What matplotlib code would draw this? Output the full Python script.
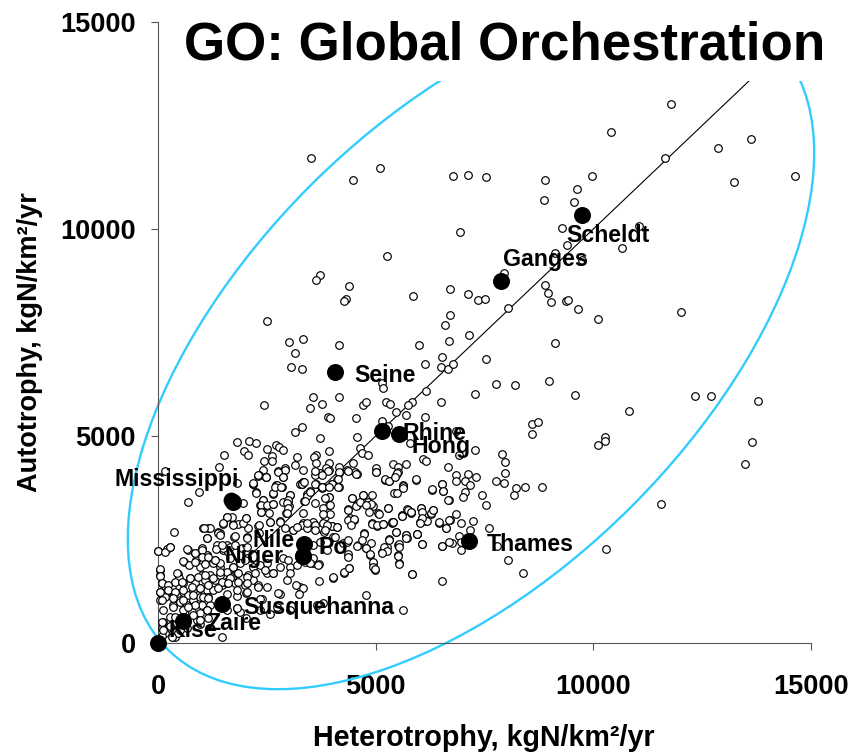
import matplotlib
matplotlib.use('Agg')
import matplotlib.pyplot as plt
from matplotlib.patches import Ellipse, Rectangle
from matplotlib.transforms import IdentityTransform

plt.rcParams['font.family'] = ['Liberation Sans', 'DejaVu Sans']
plt.rcParams['font.weight'] = 'bold'

# Basins (heterotrophy, autotrophy)
upper_het = [11784, 10398, 11646, 12870, 13621, 13231, 14640, 6784, 7113, 7541, 8889, 9969, 9617, 8859, 9548,
             9287, 11056, 6944, 9387, 10665, 9119, 9733, 7941, 6714, 7121, 7343, 7511, 5857, 8033, 8889, 8958,
             9021, 9365, 9418, 9647, 10107, 12013, 6714, 6585, 6684, 7144, 5995, 9119, 3514, 4479, 5099, 5260,
             3721, 3629, 4387, 4311, 4266, 2511, 3002, 3331, 3140, 3062, 3301, 4151]
upper_aut = [13009, 12348, 11720, 11962, 12172, 11141, 11278, 11278, 11310, 11249, 11174, 11278, 10964, 10691, 10650,
             10030, 10070, 9926, 9619, 9547, 9419, 9249, 8943, 8542, 8436, 8276, 8300, 8373, 8090, 8646, 8445,
             8235, 8267, 8276, 8059, 7818, 7993, 7921, 7680, 7300, 7438, 7189, 7257, 11713, 11182, 11471, 9346,
             8887, 8767, 8622, 8308, 8267, 7784, 7269, 7334, 6996, 6673, 6610, 7197]

right_het = [6517, 6126, 6494, 6654, 6784, 7541, 6156, 7770, 8200, 8981, 9579, 7274, 6494, 5834, 5735, 5697, 6126,
             10819, 12335, 12703, 13782, 13644, 13484, 11554, 10290, 8597, 8729, 8597, 10268, 10268, 10107, 6845,
             7274, 6921, 5788, 6080, 6163, 5704, 6654, 7902, 7971, 7971, 7770, 7941, 8230, 8430, 8828, 8170, 7442,
             7541, 6852, 7121, 7312, 6852, 7045, 7174, 6517, 5926, 6287, 6553, 7045, 7013, 6684, 5635, 5735, 6033,
             6324, 6264, 5805, 5612, 6064, 6018, 6163, 6845, 6714, 6462, 6953, 7243, 6615, 7174, 7603, 6921, 5956,
             5697, 6064, 6517, 6746, 6953, 6953, 7794, 8033, 8391, 5827, 6517]
right_aut = [6914, 6745, 6673, 6610, 6745, 6851, 6093, 6262, 6231, 6335, 5989, 6021, 5813, 5820, 5740, 5506, 5465,
             5610, 5958, 5965, 5844, 4854, 4323, 3357, 2270, 5296, 5330, 5047, 4982, 4870, 4774, 5127,
             4669, 4530, 4838, 4437, 4396, 4323, 4258, 4564, 4364, 4113, 3912, 3871, 3736, 3775, 3775, 3567, 3574,
             3325, 4057, 4089, 4016, 3912, 3905, 3809, 3840, 3944, 3702, 3664, 3647, 3526, 3461, 3809, 3212, 3253,
             3212, 3115, 3147, 3084, 3019, 2915, 2939, 3108, 2978, 2905, 2905, 2946, 2770, 2729, 2770, 2591, 2632,
             2567, 2391, 2350, 2422, 2432, 2246, 2350, 2012, 1698, 1666, 1497]

mid_het = [3560, 3760, 3491, 4151, 2442, 3898, 3958, 4548, 4709, 4778, 5145, 5175, 5237, 5329, 5467, 5138, 5290,
           3301, 3140, 3728, 4578, 1822, 2083, 2251, 1523, 1982, 2060, 2511, 2711, 2772, 2871, 2612, 2442, 2612,
           3200, 3622, 3583, 3622, 3928, 4647, 4686, 4817, 4479, 4151, 3928, 2924, 3140, 3331, 1394, 2405, 2320,
           2481, 2756, 2910, 2871, 3721, 3599, 3928, 3852, 4151, 4334, 4525, 4564, 5015, 5015, 5405, 5513, 5513,
           5467, 5214, 5313, 4112, 3989, 4151, 3629, 3767, 3262, 3331, 2711, 2841, 2175]
mid_aut = [5948, 5772, 5683, 5948, 5748, 5465, 5434, 5434, 5748, 5820, 6272, 6151, 5813, 5779, 5571, 5369, 5241,
           5225, 5088, 4951, 4982, 4847, 4886, 4838, 4533, 4645, 4533, 4678, 4789, 4741, 4669, 4516, 4396, 4396,
           4499, 4533, 4499, 4354, 4637, 4709, 4596, 4533, 4354, 4258, 4354, 4226, 4291, 4186, 4258, 4186, 4049,
           4016, 4154, 4186, 4016, 4097, 4057, 4186, 4226, 4113, 4186, 4137, 4081, 4219, 4137, 4323, 4258, 4130,
           4049, 3944, 3912, 3944, 3840, 3775, 3840, 3775, 3840, 3895, 3809, 3775, 3840]

low_het = [168, 697, 934, 1807, 2190, 2243, 2649, 2726, 2305, 2473, 3323, 3300, 3492, 3415, 3361, 3032, 2994, 2879,
           3009, 2404, 2343, 2458, 2649, 2933, 2573, 2802, 2366, 2305, 2021, 1960, 1730, 1501, 1577, 1845, 2075,
           1156, 1041, 1371, 1424, 368, 1133, 1753, 2037, 276, 199, 8, 681, 850, 1003, 605, 712, 873, 1118, 1156,
           1348, 1485, 1577, 965, 1271, 1424, 1730, 1884, 2037, 2190, 2343, 2496, 2802, 3032, 3186, 3377, 3568,
           3706, 3568, 4388, 4273, 4028, 3698, 3262, 3170, 3323, 3239, 2802, 2381, 2956, 3032, 2649, 2496, 4778,
           5635, 4977, 4946, 4870, 4778, 4602, 4740, 4372, 4257, 4028, 3798, 3989, 4104, 3568, 3721, 3338, 3109,
           5138, 5253, 5314, 5467, 5521, 5521, 5544, 5697, 5712, 5942, 4908, 5023, 5176, 5368, 5406, 5712, 5598,
           5804, 5061, 5276, 4946, 4832, 4717, 4564, 4449, 4357, 4403, 4510, 3936, 3936, 3798, 3836, 4894]
low_aut = [4154, 3397, 3639, 3872, 3840, 3639, 3598, 3816, 4041, 4017, 3880, 3840, 3679, 3598, 3429, 3574, 3437, 3413,
           3309, 3453, 3333, 3333, 3357, 3148, 2930, 2946, 3172, 2834, 3011, 3389, 2866, 2874, 3051, 2874, 2785,
           2769, 2769, 2689, 2648, 2673, 2528, 2568, 2552, 2326, 2262, 2222, 2246, 2182, 2286, 1964, 1884, 2004, 2125, 2004,
           2286, 2246, 2367, 1843, 1924, 1843, 1843, 1924, 2045, 1843, 1884, 1924, 1843, 1843, 1884, 1964, 1924,
           1908, 2045, 1803, 1699, 1562, 1489, 1360, 1401, 1336, 1183, 1183, 1055, 1521, 1699, 1682, 1699, 1151,
           797, 1763, 1924, 2125, 2286, 2367, 2648, 2149, 2407, 2568, 2729, 2826, 2809, 2930, 2769, 2906, 2729,
           2206, 2326, 2504, 2673, 2367, 2125, 1924, 2608, 2528, 2624, 2890, 2826, 2874, 2906, 2930, 3228, 3067,
           3172, 3131, 3252, 3309, 3413, 3574, 3333, 3494, 3228, 3011, 2970, 3534, 3333, 3252, 3051, 2407]

corner_het = [46, 46, 84, 161, 46, 199, 314, 467, 490, 391, 582, 735, 850, 1003, 1080, 1194, 1309, 1424, 1577, 1692,
              1807, 1922, 2075, 2190, 2305, 1462, 1577, 1768, 1999, 46, 161, 337, 467, 582, 697, 811, 965, 1118, 1271,
              965, 1156, 1577, 1807, 2021, 352, 505, 658, 811, 1003, 1194, 582, 773, 965, 1118, 122, 276, 84, 237,
              391, 467, 658, 888, 965, 1462, 1807, 1884, 2573, 2343, 2726, 3798, 3645, 3032, 352, 505, 161, 84]
corner_aut = [1763, 1642, 1441, 1385, 1240, 1264, 1320, 1666, 1562, 1481, 1441, 1562, 1441, 1642, 1521, 1642, 1521, 1642, 1723, 1602,
              1682, 1562, 1642, 1521, 1401, 1401, 1441, 1441, 1401, 1038, 1119, 1119, 1199, 1240, 1159, 1280, 1320, 1280, 1280,
              1119, 1119, 1183, 1143, 1199, 918, 998, 918, 1038, 918, 918, 797, 757, 716, 797, 515, 636, 354, 354,
              153, 233, 354, 555, 459, 137, 853, 757, 692, 797, 877, 974, 918, 797, 435, 314, 233, 169]

# second pass over the crowded parts
dense_het = [3928, 3951, 3951, 3798, 3798, 4004, 4119, 3813, 4066, 4334, 4372, 4357, 4280, 4387, 4012, 4448, 4357, 4357,
             4510, 4433, 4548, 4640, 4716, 4908, 4893, 4778, 4847, 5076, 5275, 4908, 5038, 5176, 5367, 5406, 5597, 5735,
             5804, 6033, 6057, 6271, 6325, 6171, 6057, 6018, 6455, 6615, 6692, 5467, 5697, 5697, 5957, 6057, 6516, 6692,
             4739, 4678, 4579, 4778, 4870, 4946, 4946, 4985, 5306, 5199, 5252, 5138, 5536, 5536, 5505, 5536, 5827, 5214,
             5306, 5482, 5444, 5926, 5635, 5635, 5421, 5497, 6286, 6516, 6554, 6669, 5007, 4540, 4357, 4157, 4142, 3989,
             4142, 3798, 3759, 3912,
             2305, 2473, 2175, 2244, 2650, 2688, 2826, 2764, 2879, 3300, 3354, 3607, 3760, 3928, 3607, 3760, 3032, 2994,
             2956, 2994, 2956, 3415, 3492, 3377, 3607, 3837, 2420, 2366, 2496, 2650, 2366, 2550, 2573, 2803, 2918, 2328,
             1945, 2014, 1731, 1692, 1578, 1501, 1195, 1065, 1386, 1424, 1133, 1769, 2037, 1654, 1769, 1616, 1922, 2037,
             1348, 1486, 1310, 1118, 1003, 1424, 1731, 2009, 3109, 3339, 3316, 3415, 3607, 3607, 3875, 3837, 3415, 3186,
             2879, 2994, 3683, 3492, 3721, 3875, 3568, 2328,
             7, 161, 275, 658, 850, 582, 850, 1003, 1156, 1324, 1462, 1079, 1309, 1424, 1654, 46, 46, 84, 237, 46, 237,
             390, 428, 543, 735, 926, 1079, 1271, 1462, 1654, 1845, 2037, 2228, 2458, 2649, 2496, 2305, 2037, 1845, 1807,
             2037, 1615, 1386, 1156, 964, 773, 582, 352, 84, 582, 811, 1041, 1156, 850, 697, 352, 122, 390, 84, 811, 964,
             1118, 1156, 1577, 1807, 2021, 2343, 2764, 314, 122, 275]
dense_aut = [3534, 3333, 3115, 3115, 2890, 2834, 2793, 2673, 2568, 2447, 2487, 2069, 1707, 1803, 1586, 3494, 3212, 2970,
             2987, 2850, 3317, 3413, 3574, 3574, 3349, 3333, 3156, 3115, 3252, 2866, 2850, 2866, 2914, 2914, 3075, 3212,
             3156, 3252, 3172, 3131, 3212, 2946, 3011, 2890, 2914, 2769, 2970, 2673, 2608, 2528, 2632, 2391, 2351, 2431,
             2632, 2487, 2351, 2286, 2149, 1964, 1843, 1779, 2487, 2327, 2222, 2182, 2391, 2310, 2109, 1908, 1658, 3953,
             3912, 4098, 4017, 3953, 3800, 3751, 3631, 3631, 3711, 3840, 3671, 3453, 4138, 4081, 4154, 4122, 3953, 3840,
             3775, 3775, 3735, 4154,
             4057, 4017, 3856, 3631, 3614, 3775, 3775, 4138, 4017, 3840, 3880, 3840, 3775, 3759, 4154, 4057, 3574, 3453,
             3373, 3268, 3148, 3550, 3655, 3437, 3373, 3494, 3453, 3333, 3333, 3349, 3172, 3132, 2930, 2930, 2769, 2850,
             2890, 3011, 2850, 3051, 3051, 2890, 2769, 2769, 2665, 2608, 2528, 2584, 2528, 2310, 2367, 2206, 2286, 2310,
             2367, 2286, 2005, 2125, 2246, 1924, 1843, 2005, 2729, 3132, 2850, 2769, 2850, 2729, 2850, 2729, 2890, 2810,
             2045, 2005, 1884, 1924, 2447, 2246, 2367, 2648,
             2229, 2205, 2326, 2262, 2165, 1988, 1964, 2068, 2084, 2262, 2366, 1907, 2004, 1722, 2044, 1779, 1618, 1457, 1400, 1239, 1279,
             1239, 1682, 1481, 1561, 1601, 1642, 1561, 1481, 1561, 1682, 1601, 1682, 1762, 1682, 1360, 1360, 1441, 1481, 1279,
             1239, 1441, 1320, 1400, 1320, 1360, 1279, 1078, 1038, 1038, 1159, 1118, 1078, 917, 877, 877, 796, 635, 515, 676, 555,
             796, 595, 796, 837, 595, 1054, 1199, 152, 314, 410]

# Named rivers
river_names = ['Mississippi', 'Seine', 'Rhine', 'Hong', 'Thames', 'Scheldt', 'Ganges',
               'Nile', 'Niger', 'Po', 'Susquehanna', 'Zaire', 'Kise']
river_het = [1715, 4058, 5138, 5543, 7144, 9739, 7880, 3361, 3338, 3338, 1462, 582, 0]
river_aut = [3413, 6537, 5127, 5055, 2456, 10347, 8740, 2391, 2109, 2109, 934, 531, 0]
# where each name starts
label_x = [-988, 4502, 5605, 5834, 7557, 9372, 7925, 2182, 1539, 3698, 1952, 1103, 230]
label_y = [3961, 6472, 5072, 4758, 2391, 9853, 9274, 2487, 2101, 2318, 869, 459, 290]

line_x = [0, 15000]
line_y = [0, 15000]
ticks = [0, 5000, 10000, 15000]

fig = plt.figure(figsize=(8.54, 7.55), dpi=100)
ax = fig.add_axes([158 / 854, 112 / 755, 653 / 854, 621 / 755])
ax.set_xlim(0, 15000)
ax.set_ylim(0, 15000)

het = upper_het + right_het + mid_het + low_het + corner_het + dense_het
aut = upper_aut + right_aut + mid_aut + low_aut + corner_aut + dense_aut

ax.plot(line_x, line_y, color='black', lw=0.8, zorder=2)
ax.scatter(het, aut, s=30, facecolor='white', edgecolor='black', linewidth=0.85, zorder=3, clip_on=False)
ax.scatter(river_het, river_aut, s=150, color='black', linewidth=0, zorder=4, clip_on=False)
ax.scatter([1677], [3453], s=130, color='black', linewidth=0, zorder=4)  # second Mississippi dot

for name, x, y in zip(river_names, label_x, label_y):
    ax.text(x, y, name, fontsize=16.7, fontweight='bold', va='center', ha='left', zorder=5)

# the hand-drawn ring, in pixels of the slide
ring = Ellipse((471, 409), 858, 454, angle=45, fill=False, edgecolor='#33ccff', lw=1.7,
               transform=IdentityTransform(), clip_on=False, zorder=2)
ax.add_patch(ring)

# title box hides top of the ring and the line
ax.add_patch(Rectangle((170 / 854, 674 / 755), 684 / 854, 81 / 755, facecolor='white', edgecolor='none',
                       transform=fig.transFigure, clip_on=False, zorder=6))
ax.text(505 / 854, 710 / 755, 'GO: Global Orchestration', fontsize=38.1, fontweight='bold', ha='center', va='center',
        transform=fig.transFigure, zorder=7)

ax.spines['top'].set_visible(False)
ax.spines['right'].set_visible(False)
for side in ['left', 'bottom']:
    ax.spines[side].set_color('#555555')
    ax.spines[side].set_linewidth(0.8)

ax.set_xticks(ticks)
ax.set_yticks(ticks)
ax.tick_params(axis='x', length=5, width=0.8, color='#555555', labelsize=19.5, pad=17)
ax.tick_params(axis='y', length=5, width=0.8, color='#555555', labelsize=19.5, pad=11)

fig.text(484 / 854, 17 / 755, 'Heterotrophy, kgN/km²/yr', fontsize=20.6, fontweight='bold', ha='center', va='center')
fig.text(30 / 854, 413 / 755, 'Autotrophy, kgN/km²/yr', fontsize=19.5, fontweight='bold', ha='center', va='center', rotation=90)

fig.savefig('out.png', dpi=100)
